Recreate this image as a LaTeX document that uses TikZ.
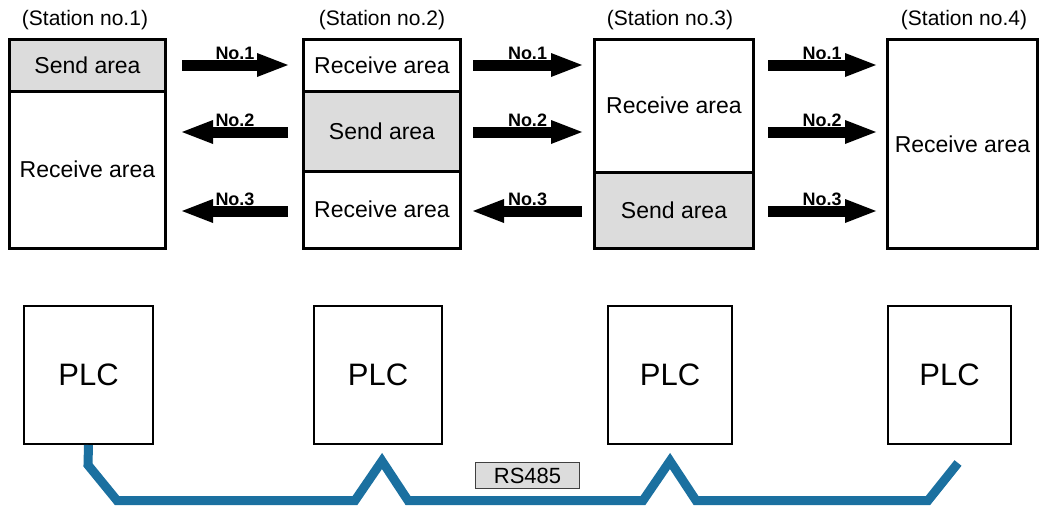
\documentclass[tikz,border=0pt]{standalone}
\usepackage{fontspec}
\setmainfont{Liberation Sans}
\usetikzlibrary{arrows.meta}
\definecolor{sendgray}{RGB}{220,220,220}
\definecolor{cablecol}{RGB}{27,112,160}
\begin{document}
\begin{tikzpicture}[x=1pt,y=-1pt,
  sect/.style={draw=black,line width=3pt,inner sep=0pt,font=\fontsize{23}{27}\selectfont},
  sendsect/.style={sect,fill=sendgray},
  ttl/.style={inner sep=0pt,font=\fontsize{21}{25}\selectfont},
  plc/.style={draw=black,line width=2pt,inner sep=0pt,minimum height=138pt,font=\fontsize{31}{36}\selectfont},
  bigarrow/.style={line width=11pt,-{Triangle[length=31pt,width=24pt,line width=0pt]}},
  arrlbl/.style={inner sep=0pt,font=\bfseries\fontsize{18}{21}\selectfont,anchor=base,yshift=6pt},
  cablestyle/.style={draw=cablecol,line width=9pt,line join=miter}
]
\useasboundingbox (0,0) rectangle (1041,506);

% titles
\node[ttl] (t1) at (85,20) {(Station no.1)};
\node[ttl] (t2) at (382,20) {(Station no.2)};
\node[ttl] (t3) at (670,20) {(Station no.3)};
\node[ttl] (t4) at (964,20) {(Station no.4)};

% station 1
\node[sendsect,minimum width=156pt,minimum height=51.5pt] (s1send) at (87.5,65.25) {Send area};
\node[sect,minimum width=156pt,minimum height=157.5pt] (s1recv) at (87.5,169.75) {Receive area};
% station 2
\node[sect,minimum width=157pt,minimum height=51.5pt] (s2recvA) at (382,65.25) {Receive area};
\node[sendsect,minimum width=157pt,minimum height=80pt] (s2send) at (382,131) {Send area};
\node[sect,minimum width=157pt,minimum height=77.5pt] (s2recvB) at (382,209.75) {Receive area};
% station 3
\node[sect,minimum width=159pt,minimum height=132.5pt] (s3recv) at (674,105.75) {Receive area};
\node[sendsect,minimum width=159pt,minimum height=76.5pt] (s3send) at (674,210.25) {Send area};
% station 4
\node[sect,minimum width=150pt,minimum height=209pt] (s4recv) at (962.5,144) {Receive area};

% arrow end points
\coordinate (g1a) at (182,65);  \coordinate (g1b) at (288,65);
\coordinate (g1c) at (182,132); \coordinate (g1d) at (288,132);
\coordinate (g1e) at (182,211); \coordinate (g1f) at (288,211);
\coordinate (g2a) at (473,65);  \coordinate (g2b) at (582,65);
\coordinate (g2c) at (473,132); \coordinate (g2d) at (582,132);
\coordinate (g2e) at (473,211); \coordinate (g2f) at (582,211);
\coordinate (g3a) at (768,65);  \coordinate (g3b) at (876,65);
\coordinate (g3c) at (768,132); \coordinate (g3d) at (876,132);
\coordinate (g3e) at (768,211); \coordinate (g3f) at (876,211);

\draw[bigarrow] (g1a) -- (g1b) node[arrlbl,midway] {No.1};
\draw[bigarrow] (g1d) -- (g1c) node[arrlbl,midway] {No.2};
\draw[bigarrow] (g1f) -- (g1e) node[arrlbl,midway] {No.3};
\draw[bigarrow] (g2a) -- (g2b) node[arrlbl,midway] {No.1};
\draw[bigarrow] (g2c) -- (g2d) node[arrlbl,midway] {No.2};
\draw[bigarrow] (g2f) -- (g2e) node[arrlbl,midway] {No.3};
\draw[bigarrow] (g3a) -- (g3b) node[arrlbl,midway] {No.1};
\draw[bigarrow] (g3c) -- (g3d) node[arrlbl,midway] {No.2};
\draw[bigarrow] (g3e) -- (g3f) node[arrlbl,midway] {No.3};

% PLCs
\node[plc,minimum width=129pt] (plc1) at (88.5,375) {PLC};
\node[plc,minimum width=128pt] (plc2) at (378,375) {PLC};
\node[plc,minimum width=124pt] (plc3) at (670,375) {PLC};
\node[plc,minimum width=123pt] (plc4) at (949.5,375) {PLC};

% cable
\coordinate (cend) at (958,463);
\draw[cablestyle] (plc1.south) -- (88,465) -- (117,500.5) -- (355,500.5) -- (382,461)
  -- (408,500.5) -- (643,500.5) -- (670,461) -- (696,500.5) -- (928,500.5) -- (cend);

\node[draw=black!75,line width=1pt,fill=sendgray,minimum width=104pt,minimum height=26pt,inner sep=0pt,font=\fontsize{22}{26}\selectfont] (rs) at (527.5,475.5) {RS485};
\end{tikzpicture}
\end{document}
